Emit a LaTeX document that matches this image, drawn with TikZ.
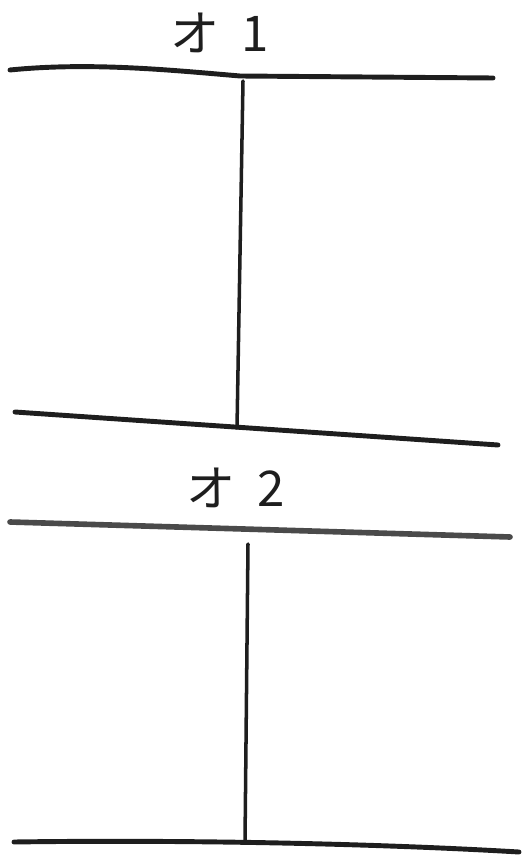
\documentclass[tikz,border=0pt]{standalone}
\usepackage{fontspec}
\newfontfamily\jpfont{Noto Sans CJK JP}
\usepackage{tikz}
\usetikzlibrary{positioning}
\usepackage{xcolor}
\definecolor{pencil}{HTML}{1E1E1E}
\definecolor{crayon}{HTML}{4A4A4A}
\tikzset{floorline/.style={draw=pencil,line width=2.8pt,line cap=round},greyline/.style={draw=crayon,line width=3.2pt,line cap=round},wallline/.style={draw=pencil,line width=2pt,line cap=round},floorlabel/.style={font=\jpfont\fontsize{28}{32}\selectfont,inner sep=0pt,text=pencil}}

\begin{document}
\begin{tikzpicture}[x=0.2mm,y=-0.2mm]
\useasboundingbox (0,0) rectangle (525,856);
% part 1
\node[floorlabel] (lblA) at (220,33) {オ\hspace{0.45em}1};
\coordinate (topAl) at (10,70);\coordinate (topAr) at (493,78);
\coordinate (botAl) at (15,412);\coordinate (botAr) at (498,445);
\coordinate (wallAt) at (243,81);\coordinate (wallAb) at (237,428);
\draw[floorline] (topAl) .. controls (90,62) and (170,70) .. (240,76) -- (topAr);
\draw[wallline] (wallAt) -- (wallAb);
\draw[floorline] (botAl) -- (botAr);
% part 2
\node[floorlabel] (lblB) at (236,488) {オ\hspace{0.45em}2};
\coordinate (topBl) at (10,522);\coordinate (topBr) at (510,537);
\coordinate (botBl) at (14,842);\coordinate (botBr) at (519,852);
\coordinate (wallBt) at (248,544);\coordinate (wallBb) at (245,842);
\draw[greyline] (topBl) -- (topBr);
\draw[wallline] (wallBt) -- (wallBb);
\draw[floorline] (botBl) .. controls (150,840) and (350,842) .. (botBr);
\end{tikzpicture}
\end{document}
